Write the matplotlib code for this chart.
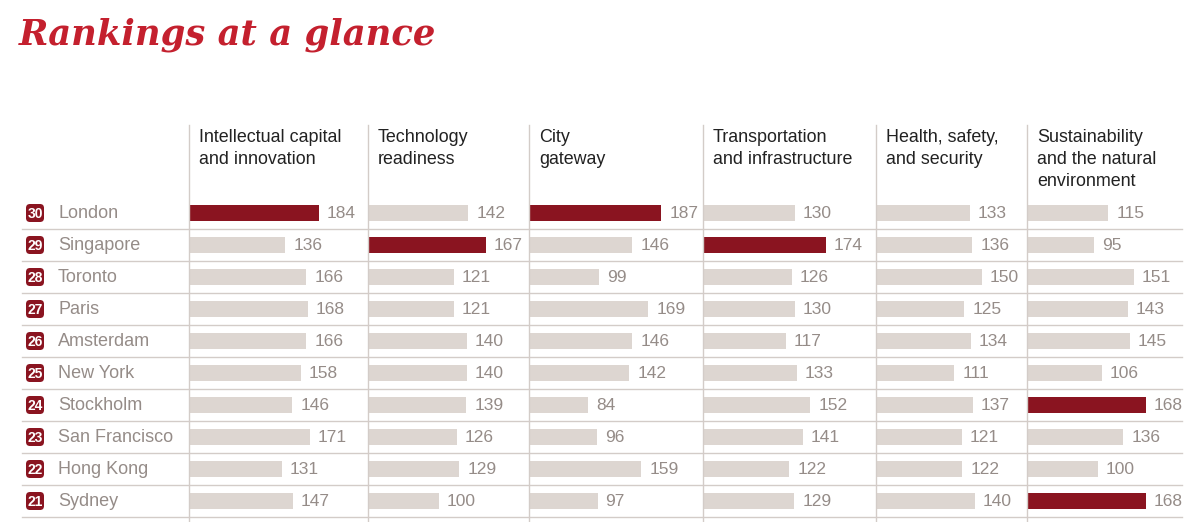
import matplotlib
matplotlib.use("Agg")
import matplotlib.pyplot as plt
from matplotlib.patches import FancyBboxPatch

# data
cities = ["London", "Singapore", "Toronto", "Paris", "Amsterdam",
          "New York", "Stockholm", "San Francisco", "Hong Kong", "Sydney"]
ranks = [30, 29, 28, 27, 26, 25, 24, 23, 22, 21]
headers = ["Intellectual capital\nand innovation",
           "Technology\nreadiness",
           "City\ngateway",
           "Transportation\nand infrastructure",
           "Health, safety,\nand security",
           "Sustainability\nand the natural\nenvironment"]
intellectual = [184, 136, 166, 168, 166, 158, 146, 171, 131, 147]
technology = [142, 167, 121, 121, 140, 140, 139, 126, 129, 100]
gateway = [187, 146, 99, 169, 146, 142, 84, 96, 159, 97]
transport = [130, 174, 126, 130, 117, 133, 152, 141, 122, 129]
health = [133, 136, 150, 125, 134, 111, 137, 121, 122, 140]
sustain = [115, 95, 151, 143, 145, 106, 168, 136, 100, 168]
series = [intellectual, technology, gateway, transport, health, sustain]
# city that leads each column (drawn dark red)
leaders = [["London"], ["Singapore"], ["London"], ["Singapore"], [],
           ["Stockholm", "Sydney"]]

##### colours / layout #####
red_title = "#c4202e"
dark_red = "#8a1420"
bar_grey = "#ddd6d1"
text_grey = "#958c88"
line_grey = "#d3ccc8"
col_x = [189, 368, 529, 703, 876, 1027]
px_per_unit = 0.707
row_y0 = 213
row_step = 32
bar_h = 16

fig = plt.figure(figsize=(12, 5.22), dpi=100)
ax = fig.add_axes([0, 0, 1, 1])
ax.set_xlim(0, 1200)
ax.set_ylim(522, 0)
ax.axis("off")

##### title #####
ax.text(19, 45, "Rankings at a glance", fontsize=25.5, fontweight="bold",
        fontstyle="italic", family="DejaVu Serif", color=red_title,
        va="baseline", ha="left")

##### headers and column rules #####
for x, head in zip(col_x, headers):
    ax.plot([x, x], [125, 522], color=line_grey, lw=1)
    for k, line in enumerate(head.split("\n")):
        ax.text(x + 10, 137 + 22 * k, line, fontsize=12.9,
                family="Liberation Sans", color="#222222",
                va="center", ha="left")

##### rows #####
ys = [row_y0 + i * row_step for i in range(len(cities))]
for i, (city, rank, y) in enumerate(zip(cities, ranks, ys)):
    ax.plot([22, 1182], [y + 16, y + 16], color=line_grey, lw=1)
    badge = FancyBboxPatch((26, y - 9), 18, 18,
                           boxstyle="round,pad=0,rounding_size=4",
                           fc=dark_red, ec="none")
    ax.add_patch(badge)
    ax.text(35, y + 0.5, str(rank), fontsize=10, fontweight="bold",
            family="Liberation Sans", color="white", ha="center", va="center")
    ax.text(58, y + 1, city, fontsize=13, family="Liberation Sans",
            color=text_grey, ha="left", va="center")

for x, vals, lead in zip(col_x, series, leaders):
    colours = [dark_red if c in lead else bar_grey for c in cities]
    widths = [v * px_per_unit for v in vals]
    ax.barh(ys, widths, left=x, height=bar_h, color=colours)
    for y, w, v in zip(ys, widths, vals):
        ax.text(x + w + 8, y + 1, str(v), fontsize=12.5,
                family="Liberation Sans", color=text_grey,
                ha="left", va="center")

fig.savefig("out.png", dpi=100)
